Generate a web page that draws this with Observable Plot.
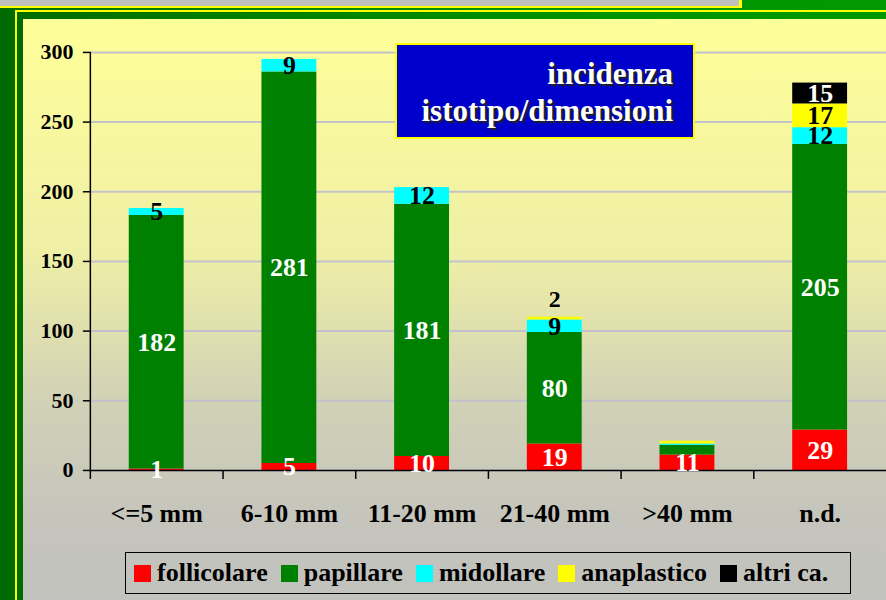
<!DOCTYPE html>
<html>
<head>
<meta charset="utf-8">
<script src="https://cdn.jsdelivr.net/npm/d3@7"></script>
<script src="https://cdn.jsdelivr.net/npm/@observablehq/plot@0.6"></script>
<style>
  html, body { margin: 0; padding: 0; }
  #page {
    position: relative; width: 886px; height: 600px; overflow: hidden;
    background: linear-gradient(90deg, #006a00 0px, #007c00 200px, #009400 600px, #009a00 886px);
    font-family: "Liberation Serif", "Times New Roman", serif;
  }
  #strip {
    position: absolute; left: 0; top: 0; width: 739px; height: 6px;
    background: #c0c0c0; border-right: 3px solid #ffff00; border-bottom: 2px solid #ffff00;
  }
  #outline {
    position: absolute; left: 15px; top: 10px; width: 900px; height: 620px;
    border: 2px solid #ffff00; box-sizing: border-box;
  }
  #panel {
    position: absolute; left: 23px; top: 19px; right: 0; bottom: 0;
    background: linear-gradient(180deg, #ffff99 0%, #efefa6 40%, #d2d2b6 65%, #c5c5bc 85%, #c2c2be 100%);
  }
  #chart { position: absolute; left: 23px; top: 19px; }
  #title {
    position: absolute; left: 395px; top: 43px; width: 300px; height: 96px;
    box-sizing: border-box; border: 2px solid #ffff00; background: #0000cc;
    color: #ffffff; font-weight: bold; font-size: 31px; line-height: 37px;
    text-align: right; padding: 10px 20px 0 0;
    text-shadow: 2px 2px 1px #202020;
  }
  #legend {
    position: absolute; left: 125px; top: 552px; width: 726px; height: 42px;
    box-sizing: border-box; border: 1.5px solid #000;
    display: flex; align-items: center; padding-left: 8px;
    font-weight: bold; font-size: 26px; color: #000;
  }
  .item { display: flex; align-items: center; margin-right: 13px; }
  .sw { width: 17px; height: 17px; margin-right: 6px; }
</style>
</head>
<body>
<div id="page">
  <div id="strip"></div>
  <div id="outline"></div>
  <div id="panel"></div>
  <div id="chart"></div>
  <div id="title">incidenza<br>istotipo/dimensioni</div>
  <div id="legend"></div>
</div>
<script>
// ---- data ----
const categories = ["<=5 mm", "6-10 mm", "11-20 mm", "21-40 mm", ">40 mm", "n.d."];
const seriesNames = ["follicolare", "papillare", "midollare", "anaplastico", "altri ca."];
const follicolare = [1, 5, 10, 19, 11, 29];
const papillare   = [182, 281, 181, 80, 7, 205];
const midollare   = [5, 9, 12, 9, 1, 12];
const anaplastico = [0, 0, 0, 2, 2, 17];
const altri       = [0, 0, 0, 0, 0, 15];
const yTicks = [0, 50, 100, 150, 200, 250, 300];
const seriesColors = ["#ff0000", "#008000", "#00ffff", "#ffff00", "#000000"];
const whiteLabelSeries = ["follicolare", "papillare", "altri ca."];
const hiddenLabels = [">40 mm|papillare", ">40 mm|midollare", ">40 mm|anaplastico"];
const labelsAbove = ["21-40 mm|anaplastico"];

const seriesValues = [follicolare, papillare, midollare, anaplastico, altri];
const rows = [];
categories.forEach((c, i) => {
  seriesNames.forEach((s, j) => {
    const v = seriesValues[j][i];
    if (v > 0) rows.push({cat: c, series: s, value: v, key: c + "|" + s});
  });
});

const W = 865, H = 530, ML = 67, MR = 0, MT = 33, MB = 78;
const step = (W - ML - MR) / categories.length;
const font = "'Liberation Serif', 'Times New Roman', serif";

function inBar(d, white) {
  if (hiddenLabels.includes(d.key) || labelsAbove.includes(d.key)) return null;
  const isWhite = whiteLabelSeries.includes(d.series);
  return isWhite === white ? String(d.value) : null;
}

const chart = Plot.plot({
  width: W, height: H,
  marginLeft: ML, marginRight: MR, marginTop: MT, marginBottom: MB,
  style: {background: "transparent", fontFamily: font, color: "#000", overflow: "visible"},
  x: {domain: categories, paddingInner: 0.59, paddingOuter: 0.295, label: null},
  y: {domain: [0, 300], label: null},
  color: {domain: seriesNames, range: seriesColors},
  marks: [
    Plot.gridY({ticks: yTicks, stroke: "#c2c2cc", strokeOpacity: 1, strokeWidth: 2}),
    Plot.barY(rows, {x: "cat", y: "value", fill: "series"}),
    Plot.ruleY([0], {stroke: "#000", strokeWidth: 1.5}),
    Plot.frame({anchor: "left", stroke: "#000", strokeWidth: 1.5}),
    Plot.axisY({ticks: yTicks, tickSize: 7, tickPadding: 10, fontSize: 22, fontWeight: "bold", label: null, strokeWidth: 1.5}),
    Plot.axisX({tickSize: 9, tickFormat: () => "", dx: -step / 2, label: null, strokeWidth: 1.5}),
    Plot.axisX({tickSize: 0, tickPadding: 33, fontSize: 26, fontWeight: "bold", label: null}),
    Plot.text(rows, Plot.stackY({x: "cat", y: "value", text: d => inBar(d, true), fill: "#fff", fontSize: 26, fontWeight: "bold"})),
    Plot.text(rows, Plot.stackY({x: "cat", y: "value", text: d => inBar(d, false), fill: "#000", fontSize: 26, fontWeight: "bold"})),
    Plot.text(rows, Plot.stackY({x: "cat", y: "value", text: d => labelsAbove.includes(d.key) ? String(d.value) : null, fill: "#000", fontSize: 24, fontWeight: "bold", dy: -19}))
  ]
});
document.getElementById("chart").appendChild(chart);

// legend
const legend = document.getElementById("legend");
seriesNames.forEach((s, i) => {
  const item = document.createElement("div");
  item.className = "item";
  const sw = document.createElement("div");
  sw.className = "sw";
  sw.style.background = seriesColors[i];
  const t = document.createElement("span");
  t.textContent = s;
  item.appendChild(sw);
  item.appendChild(t);
  legend.appendChild(item);
});
</script>
</body>
</html>
